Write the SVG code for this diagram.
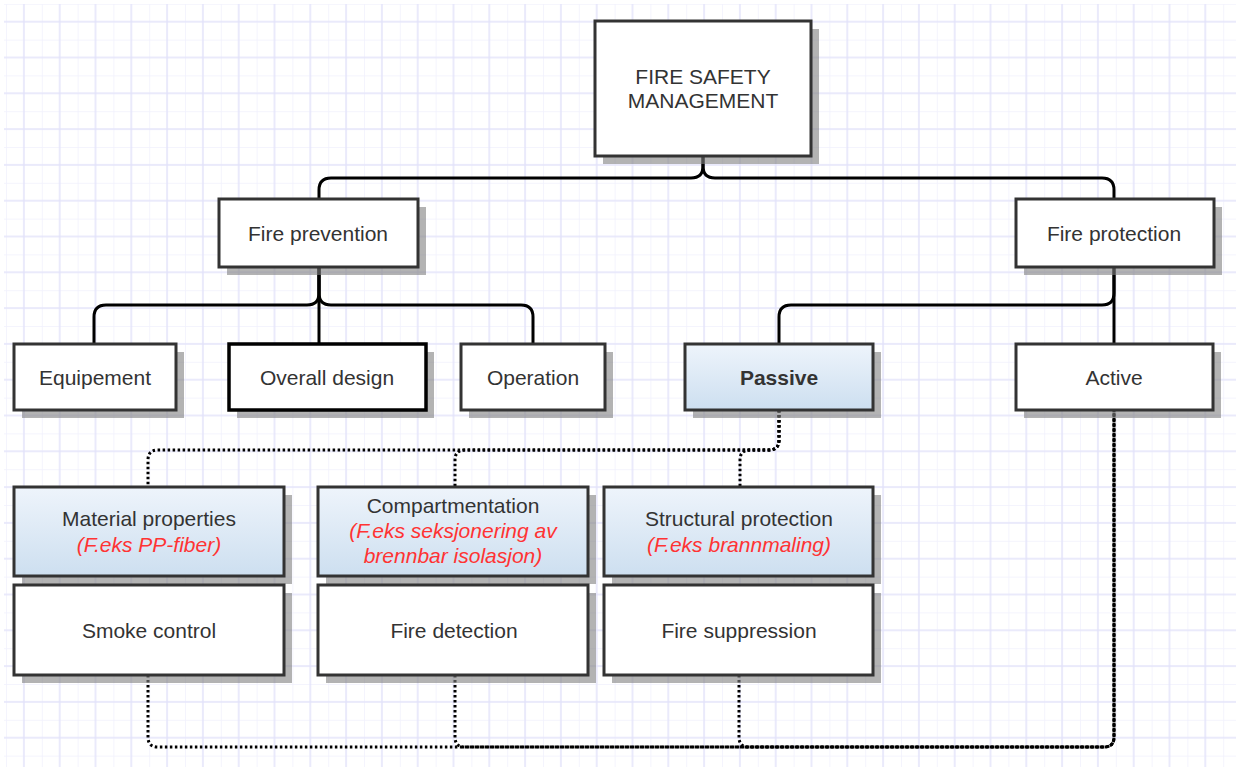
<svg xmlns="http://www.w3.org/2000/svg" width="1236" height="767" viewBox="0 0 1236 767">
<defs>
<pattern id="grid" patternUnits="userSpaceOnUse" x="6" y="3.8" width="35.8" height="35.8">
<path d="M0,0 V35.8 M0,0 H35.8" stroke="#f1f1fd" stroke-width="1.5" fill="none"/>
<path d="M17.9,0 V35.8 M0,17.9 H35.8" stroke="#e3e3fa" stroke-width="1.5" fill="none"/>
</pattern>
<linearGradient id="blue" x1="0" y1="0" x2="0" y2="1">
<stop offset="0" stop-color="#eef4fb"/>
<stop offset="1" stop-color="#cddff0"/>
</linearGradient>
</defs>
<style>
.box{fill:#fff;stroke:#333;stroke-width:3}
.blue{fill:url(#blue)}
.bold{stroke:#000;stroke-width:3.5}
.sh{fill:#808080;opacity:0.6}
.t{font-family:"Liberation Sans",Arial,sans-serif;font-size:21px;fill:#333;text-anchor:middle}
.r{fill:#ff3333;font-style:italic}
.b{font-weight:bold}
.c{fill:none;stroke:#000;stroke-width:3}
.d{fill:none;stroke:#000;stroke-width:3;stroke-dasharray:2.5 2.5}
</style>
<rect width="1236" height="767" fill="#fff"/>
<rect x="4" y="4" width="1232" height="763" fill="url(#grid)"/>

<g id="connectors">
<path class="c" d="M703,156 L703,166 Q703,178 691,178 L331,178 Q319,178 319,190 L319,199"/>
<path class="c" d="M703,156 L703,166 Q703,178 715,178 L1102,178 Q1114,178 1114,190 L1114,200"/>
<path class="c" d="M319,267 L319,293 Q319,305 307,305 L106,305 Q94,305 94,317 L94,344"/>
<path class="c" d="M319,267 L319,344"/>
<path class="c" d="M319,267 L319,293 Q319,305 331,305 L521,305 Q533,305 533,317 L533,344"/>
<path class="c" d="M1114,267 L1114,293 Q1114,305 1102,305 L791,305 Q779,305 779,317 L779,344"/>
<path class="c" d="M1114,267 L1114,344"/>
<path class="d" d="M779,410 L779,440 Q779,450 769,450 L158,450 Q148,450 148,460 L148,487"/>
<path class="d" d="M779,410 L779,440 Q779,450 769,450 L465,450 Q455,450 455,460 L455,487"/>
<path class="d" d="M779,410 L779,440 Q779,450 769,450 L750,450 Q740,450 740,460 L740,487"/>
<path class="d" d="M148,675 L148,737 Q148,747 158,747 L1104,747 Q1114,747 1114,737 L1114,410"/>
<path class="d" d="M455,675 L455,737 Q455,747 465,747 L1104,747 Q1114,747 1114,737 L1114,410"/>
<path class="d" d="M739,675 L739,737 Q739,747 749,747 L1104,747 Q1114,747 1114,737 L1114,410"/>
</g>

<g id="fire-safety-management">
<rect class="sh" x="603" y="29" width="216" height="135"/>
<rect class="box" x="595" y="21" width="216" height="135"/>
<text class="t" x="703" y="84">FIRE SAFETY</text>
<text class="t" x="703" y="108">MANAGEMENT</text>
</g>
<g id="fire-prevention">
<rect class="sh" x="227" y="207" width="199" height="68"/>
<rect class="box" x="219" y="199" width="199" height="68"/>
<text class="t" x="318" y="240.5">Fire prevention</text>
</g>
<g id="fire-protection">
<rect class="sh" x="1024" y="207" width="198" height="68"/>
<rect class="box" x="1016" y="199" width="198" height="68"/>
<text class="t" x="1114" y="240.5">Fire protection</text>
</g>
<g id="equipement">
<rect class="sh" x="22" y="352" width="162" height="66"/>
<rect class="box" x="14" y="344" width="162" height="66"/>
<text class="t" x="95" y="384.5">Equipement</text>
</g>
<g id="overall-design">
<rect class="sh" x="237" y="352" width="197" height="66"/>
<rect class="box bold" x="229" y="344" width="197" height="66"/>
<text class="t" x="327" y="384.5">Overall design</text>
</g>
<g id="operation">
<rect class="sh" x="469" y="352" width="144" height="66"/>
<rect class="box" x="461" y="344" width="144" height="66"/>
<text class="t" x="533" y="384.5">Operation</text>
</g>
<g id="passive">
<rect class="sh" x="693" y="352" width="188" height="66"/>
<rect class="box blue" x="685" y="344" width="188" height="66"/>
<text class="t b" x="779" y="384.5">Passive</text>
</g>
<g id="active">
<rect class="sh" x="1024" y="352" width="197" height="66"/>
<rect class="box" x="1016" y="344" width="197" height="66"/>
<text class="t" x="1114" y="384.5">Active</text>
</g>
<g id="material-properties">
<rect class="sh" x="22" y="495" width="270" height="89"/>
<rect class="box blue" x="14" y="487" width="270" height="89"/>
<text class="t" x="149" y="525.5">Material properties</text>
<text class="t r" x="149" y="551.5">(F.eks PP-fiber)</text>
</g>
<g id="compartmentation">
<rect class="sh" x="326" y="495" width="270" height="89"/>
<rect class="box blue" x="318" y="487" width="270" height="89"/>
<text class="t" x="453" y="512.5">Compartmentation</text>
<text class="t r" x="453" y="537.5">(F.eks seksjonering av</text>
<text class="t r" x="453" y="562.5">brennbar isolasjon)</text>
</g>
<g id="structural-protection">
<rect class="sh" x="612" y="495" width="269" height="89"/>
<rect class="box blue" x="604" y="487" width="269" height="89"/>
<text class="t" x="739" y="525.5">Structural protection</text>
<text class="t r" x="739" y="551.5">(F.eks brannmaling)</text>
</g>
<g id="smoke-control">
<rect class="sh" x="22" y="593" width="270" height="90"/>
<rect class="box" x="14" y="585" width="270" height="90"/>
<text class="t" x="149" y="637.5">Smoke control</text>
</g>
<g id="fire-detection">
<rect class="sh" x="326" y="593" width="270" height="90"/>
<rect class="box" x="318" y="585" width="270" height="90"/>
<text class="t" x="454" y="637.5">Fire detection</text>
</g>
<g id="fire-suppression">
<rect class="sh" x="612" y="593" width="269" height="90"/>
<rect class="box" x="604" y="585" width="269" height="90"/>
<text class="t" x="739" y="637.5">Fire suppression</text>
</g>
</svg>
